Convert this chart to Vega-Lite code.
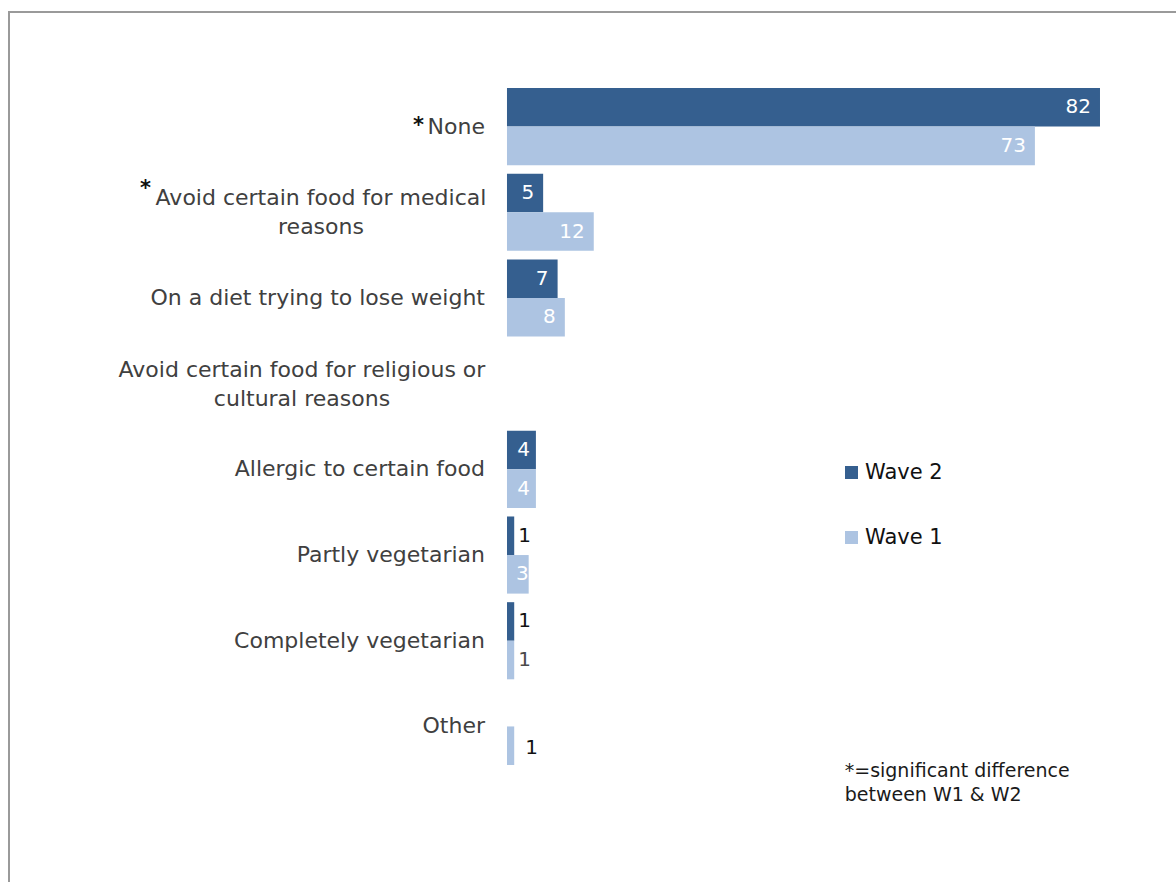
{
  "$schema": "https://vega.github.io/schema/vega-lite/v6.json",
  "width": 1167,
  "height": 870,
  "autosize": {"type": "none"},
  "padding": {"left": 9, "top": 12, "right": 0, "bottom": 0},
  "background": "white",
  "config": {
    "font": "DejaVu Sans",
    "view": {"stroke": "#9a9a9a", "strokeWidth": 2, "strokeDash": [1167, 2037, 870]}
  },
  "datasets": {
    "bars": [
      {"category": "None", "wave": "Wave 2", "value": 82},
      {"category": "None", "wave": "Wave 1", "value": 73},
      {"category": "Avoid certain food for medical reasons", "wave": "Wave 2", "value": 5},
      {"category": "Avoid certain food for medical reasons", "wave": "Wave 1", "value": 12},
      {"category": "On a diet trying to lose weight", "wave": "Wave 2", "value": 7},
      {"category": "On a diet trying to lose weight", "wave": "Wave 1", "value": 8},
      {"category": "Allergic to certain food", "wave": "Wave 2", "value": 4},
      {"category": "Allergic to certain food", "wave": "Wave 1", "value": 4},
      {"category": "Partly vegetarian", "wave": "Wave 2", "value": 1},
      {"category": "Partly vegetarian", "wave": "Wave 1", "value": 3},
      {"category": "Completely vegetarian", "wave": "Wave 2", "value": 1},
      {"category": "Completely vegetarian", "wave": "Wave 1", "value": 1},
      {"category": "Other", "wave": "Wave 1", "value": 1}
    ],
    "cats": [
      {"category": "None", "label": "None", "sig": true},
      {"category": "Avoid certain food for medical reasons", "label": ["Avoid certain food for medical", "reasons"], "sig": true},
      {"category": "On a diet trying to lose weight", "label": "On a diet trying to lose weight", "sig": false},
      {"category": "Avoid certain food for religious or cultural reasons", "label": ["Avoid certain food for religious or", "cultural reasons"], "sig": false},
      {"category": "Allergic to certain food", "label": "Allergic to certain food", "sig": false},
      {"category": "Partly vegetarian", "label": "Partly vegetarian", "sig": false},
      {"category": "Completely vegetarian", "label": "Completely vegetarian", "sig": false},
      {"category": "Other", "label": "Other", "sig": false}
    ]
  },
  "layer": [
    {
      "data": {"name": "bars"},
      "mark": {"type": "bar"},
      "encoding": {
        "y": {
          "field": "category", "type": "nominal", "axis": null,
          "scale": {
            "domain": ["None", "Avoid certain food for medical reasons", "On a diet trying to lose weight", "Avoid certain food for religious or cultural reasons", "Allergic to certain food", "Partly vegetarian", "Completely vegetarian", "Other"],
            "range": [76, 753], "paddingInner": 0.1, "paddingOuter": 0
          }
        },
        "yOffset": {"field": "wave", "type": "nominal", "scale": {"domain": ["Wave 2", "Wave 1"], "paddingInner": 0, "paddingOuter": 0}},
        "x": {"field": "value", "type": "quantitative", "axis": null, "scale": {"domain": [-68.86, 92.51], "nice": false}},
        "x2": {"datum": 0},
        "color": {
          "field": "wave", "type": "nominal",
          "scale": {"domain": ["Wave 2", "Wave 1"], "range": ["#355F8F", "#ADC4E2"]},
          "legend": {
            "orient": "none", "legendX": 832, "legendY": 450, "title": null,
            "symbolType": "square", "symbolSize": 169, "symbolStrokeWidth": 0, "symbolOpacity": 1,
            "labelFontSize": 21, "labelColor": "#111111", "labelOffset": 3, "rowPadding": 43, "padding": 0
          }
        }
      }
    },
    {
      "data": {"name": "bars"},
      "transform": [{"filter": "datum.value >= 5"}],
      "mark": {"type": "text", "align": "right", "baseline": "middle", "dx": -9, "fontSize": 20, "color": "#ffffff"},
      "encoding": {
        "y": {"field": "category", "type": "nominal"},
        "yOffset": {"field": "wave", "type": "nominal"},
        "x": {"field": "value", "type": "quantitative"},
        "text": {"field": "value", "type": "quantitative"}
      }
    },
    {
      "data": {"name": "bars"},
      "transform": [{"filter": "datum.value == 4"}],
      "mark": {"type": "text", "align": "right", "baseline": "middle", "dx": -6, "fontSize": 20, "color": "#ffffff"},
      "encoding": {
        "y": {"field": "category", "type": "nominal"},
        "yOffset": {"field": "wave", "type": "nominal"},
        "x": {"field": "value", "type": "quantitative"},
        "text": {"field": "value", "type": "quantitative"}
      }
    },
    {
      "data": {"name": "bars"},
      "transform": [{"filter": "datum.value == 3"}],
      "mark": {"type": "text", "align": "right", "baseline": "middle", "dx": 0, "fontSize": 20, "color": "#ffffff"},
      "encoding": {
        "y": {"field": "category", "type": "nominal"},
        "yOffset": {"field": "wave", "type": "nominal"},
        "x": {"field": "value", "type": "quantitative"},
        "text": {"field": "value", "type": "quantitative"}
      }
    },
    {
      "data": {"name": "bars"},
      "transform": [{"filter": "datum.value < 3 && datum.category != 'Other'"}],
      "mark": {"type": "text", "align": "left", "baseline": "middle", "dx": 4, "fontSize": 20},
      "encoding": {
        "y": {"field": "category", "type": "nominal"},
        "yOffset": {"field": "wave", "type": "nominal"},
        "x": {"field": "value", "type": "quantitative"},
        "text": {"field": "value", "type": "quantitative"},
        "color": {"condition": {"test": "datum.wave == 'Wave 1'", "value": "#4a4a4a"}, "value": "#111111"}
      }
    },
    {
      "data": {"name": "bars"},
      "transform": [{"filter": "datum.category == 'Other'"}],
      "mark": {"type": "text", "align": "left", "baseline": "middle", "dx": 11, "dy": 2, "fontSize": 20, "color": "#111111"},
      "encoding": {
        "y": {"field": "category", "type": "nominal"},
        "yOffset": {"field": "wave", "type": "nominal"},
        "x": {"field": "value", "type": "quantitative"},
        "text": {"field": "value", "type": "quantitative"}
      }
    },
    {
      "data": {"name": "cats"},
      "transform": [{"filter": "!isArray(datum.label)"}],
      "mark": {"type": "text", "align": "right", "baseline": "middle", "dx": -22, "fontSize": 22, "color": "#404040"},
      "encoding": {
        "y": {"field": "category", "type": "nominal"},
        "x": {"datum": 0},
        "text": {"field": "label"}
      }
    },
    {
      "data": {"name": "cats"},
      "transform": [{"filter": "datum.category == 'Avoid certain food for medical reasons'"}],
      "mark": {"type": "text", "align": "center", "baseline": "middle", "dx": -186, "dy": -14, "fontSize": 22, "lineHeight": 29, "color": "#404040"},
      "encoding": {
        "y": {"field": "category", "type": "nominal"},
        "x": {"datum": 0},
        "text": {"field": "label"}
      }
    },
    {
      "data": {"name": "cats"},
      "transform": [{"filter": "datum.category == 'Avoid certain food for religious or cultural reasons'"}],
      "mark": {"type": "text", "align": "center", "baseline": "middle", "dx": -205, "dy": -14, "fontSize": 22, "lineHeight": 29, "color": "#404040"},
      "encoding": {
        "y": {"field": "category", "type": "nominal"},
        "x": {"datum": 0},
        "text": {"field": "label"}
      }
    },
    {
      "data": {"name": "cats"},
      "transform": [{"filter": "datum.category == 'None'"}],
      "mark": {"type": "text", "text": "*", "align": "right", "baseline": "middle", "dx": -83, "dy": -1, "fontSize": 21, "fontWeight": "bold", "color": "#111111"},
      "encoding": {
        "y": {"field": "category", "type": "nominal"},
        "x": {"datum": 0}
      }
    },
    {
      "data": {"name": "cats"},
      "transform": [{"filter": "datum.category == 'Avoid certain food for medical reasons'"}],
      "mark": {"type": "text", "text": "*", "align": "right", "baseline": "middle", "dx": -356, "dy": -23, "fontSize": 21, "fontWeight": "bold", "color": "#111111"},
      "encoding": {
        "y": {"field": "category", "type": "nominal"},
        "x": {"datum": 0}
      }
    },
    {
      "data": {"values": [{"note": ["*=significant difference", "between W1 & W2"]}]},
      "mark": {"type": "text", "align": "left", "baseline": "middle", "dy": 45, "fontSize": 19, "lineHeight": 24, "color": "#1a1a1a"},
      "encoding": {
        "y": {"datum": "Other", "type": "nominal"},
        "x": {"datum": 46.7, "type": "quantitative"},
        "text": {"field": "note"}
      }
    }
  ]
}
